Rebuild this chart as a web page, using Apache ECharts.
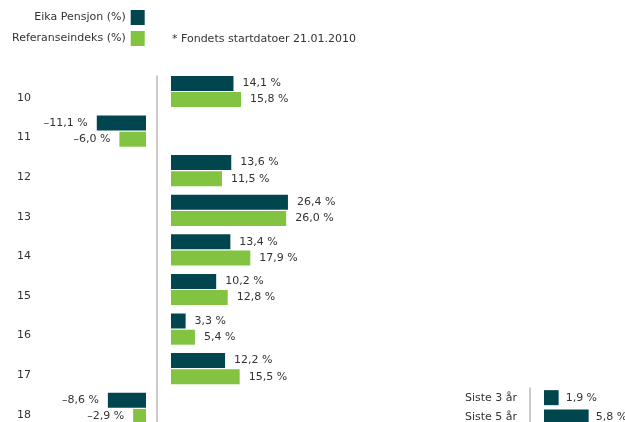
<!DOCTYPE html>
<html>
<head>
<meta charset="utf-8">
<script src="https://cdn.jsdelivr.net/npm/echarts@6/dist/echarts.min.js"></script>
<style>
  html, body { margin: 0; padding: 0; background: #fff; overflow: hidden; }
  #chart { width: 625px; height: 440px; }
</style>
</head>
<body>
<div id="chart"></div>
<script>
// årsavkastning
var years = ['10', '11', '12', '13', '14', '15', '16', '17', '18'];
var eika = [14.1, -11.1, 13.6, 26.4, 13.4, 10.2, 3.3, 12.2, -8.6];
var ref = [15.8, -6.0, 11.5, 26.0, 17.9, 12.8, 5.4, 15.5, -2.9];
// siste perioder
var periods = ['Siste 3 år', 'Siste 5 år'];
var periodEika = [1.9, 5.8];

var DARK = '#01464f';
var GREEN = '#82c341';
var TXT = '#333';
var FONT = 'DejaVu Sans';

function fmt(v) {
	return (v < 0 ? '\u2013' : '') + Math.abs(v).toFixed(1).replace('.', ',') + ' %';
}
function neg(arr) { return arr.map(function (v) { return v < 0 ? v : '-'; }); }
function pos(arr) { return arr.map(function (v) { return v >= 0 ? v : '-'; }); }

var label = function (p) {
	return {
		show: true,
		position: p,
		distance: 9,
		color: TXT,
		fontFamily: FONT,
		fontSize: 11,
		formatter: function (d) { return fmt(d.value); }
	};
};

var charts = echarts.init(document.getElementById('chart'));
var option = {
	animation: false,
	textStyle: { fontFamily: FONT },
	legend: {
		data: ['Eika Pensjon (%)', 'Referanseindeks (%)'],
		orient: 'vertical',
		align: 'right',
		left: 12,
		top: 10,
		padding: 0,
		itemWidth: 14,
		itemHeight: 15,
		itemGap: 6,
		icon: 'rect',
		selectedMode: false,
		textStyle: { fontSize: 11, color: TXT, fontFamily: FONT }
	},
	graphic: [{
		type: 'text',
		left: 172,
		top: 34,
		style: { text: '* Fondets startdatoer 21.01.2010', fill: TXT, font: '11px "DejaVu Sans"' }
	}],
	grid: [
		{ left: 79.5, width: 66.5, top: 71.7, height: 356.4 },   // negative
		{ left: 171, width: 132.9, top: 71.7, height: 356.4 },   // positive
		{ left: 157, width: 1, top: 76, height: 360 },          // skillelinje
		{ left: 544, width: 77, top: 388, height: 38.6 }         // siste perioder
	],
	xAxis: [
		{ gridIndex: 0, type: 'value', min: -15, max: 0, show: false },
		{ gridIndex: 1, type: 'value', min: 0, max: 30, show: false },
		{ gridIndex: 2, type: 'value', min: 0, max: 1, show: false },
		{ gridIndex: 3, type: 'value', min: 0, max: 10, show: false }
	],
	yAxis: [
		{
			gridIndex: 0, type: 'category', data: years, inverse: true,
			axisLine: { show: false }, axisTick: { show: false },
			axisLabel: { align: 'left', verticalAlign: 'top', lineHeight: 13, margin: 62.5, color: TXT, fontSize: 11, fontFamily: FONT }
		},
		{ gridIndex: 1, type: 'category', data: years, inverse: true, show: false },
		{
			gridIndex: 2, type: 'value', min: 0, max: 1,
			axisLine: { show: true, onZero: false, lineStyle: { color: '#bdb8b4', width: 1.5 } },
			axisTick: { show: false }, axisLabel: { show: false }, splitLine: { show: false }
		},
		{
			gridIndex: 3, type: 'category', data: periods, inverse: true, offset: 14,
			axisLine: { show: true, onZero: false, lineStyle: { color: '#bdb8b4', width: 1.5 } },
			axisTick: { show: false },
			axisLabel: { margin: 13, color: TXT, fontSize: 11, fontFamily: FONT }
		}
	],
	series: [
		{ name: 'Eika Pensjon (%)', type: 'bar', xAxisIndex: 0, yAxisIndex: 0, data: neg(eika), color: DARK, barWidth: 15, barGap: '8%', label: label('left') },
		{ name: 'Referanseindeks (%)', type: 'bar', xAxisIndex: 0, yAxisIndex: 0, data: neg(ref), color: GREEN, barWidth: 15, barGap: '8%', label: label('left') },
		{ name: 'Eika Pensjon (%)', type: 'bar', xAxisIndex: 1, yAxisIndex: 1, data: pos(eika), color: DARK, barWidth: 15, barGap: '8%', label: label('right') },
		{ name: 'Referanseindeks (%)', type: 'bar', xAxisIndex: 1, yAxisIndex: 1, data: pos(ref), color: GREEN, barWidth: 15, barGap: '8%', label: label('right') },
		{ name: 'Eika Pensjon (%)', type: 'bar', xAxisIndex: 3, yAxisIndex: 3, data: periodEika, color: DARK, barWidth: 15,
			label: { show: true, position: 'right', distance: 7, color: TXT, fontSize: 11, fontFamily: FONT, formatter: function (d) { return fmt(d.value); } } }
	]
};
charts.setOption(option);
</script>
</body>
</html>
